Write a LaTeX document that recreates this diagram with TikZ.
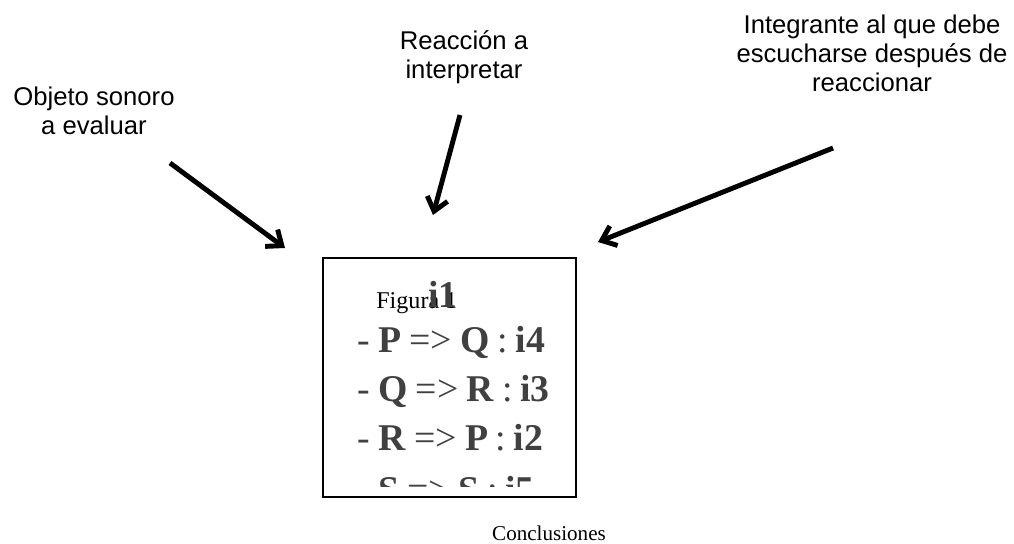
\documentclass[tikz,border=0pt]{standalone}
\usepackage{fontspec}
\setmainfont{Liberation Serif}
\newfontfamily\labelfont{Liberation Sans}
\usepackage{xcolor}
\usetikzlibrary{arrows.meta}
\definecolor{rulegray}{HTML}{404040}
\newcommand\rulerow[3]{-\hspace{0.22em}\textbf{#1}\hspace{0.22em}=>\hspace{0.22em}\textbf{#2}\hspace{0.2em}:\hspace{0.2em}\textbf{#3}}

\begin{document}
\begin{tikzpicture}[
  x=0.02cm, y=-0.02cm,
  lbl/.style={align=center, inner sep=0pt,
              font=\labelfont\fontsize{14.6}{16.6}\selectfont},
  row/.style={anchor=base west, inner sep=0pt, text=rulegray,
              font=\fontsize{21.5}{24}\selectfont},
  ar/.style={-{Straight Barb[length=2.6mm,width=4.2mm]}, line width=2.8pt}
]
\useasboundingbox (0,0) rectangle (1014,544);
\node[lbl] (obj)  at (94,111)  {Objeto sonoro\\a evaluar};
\node[lbl] (reac) at (464,57)  {Reacción a\\interpretar};
\node[lbl] (integ) at (872,53) {Integrante al que debe\\escucharse después de\\reaccionar};
% content of the box, cut off at the bottom
\begin{scope}
\clip (323,258) rectangle (576,486);
\node[anchor=base west, inner sep=0pt, font=\fontsize{13.7}{16}\selectfont]
  (fig) at (376,308) {Figura 1};
\node[row] (ione) at (428,307) {\textbf{i1}};
\node[row] (r1) at (357,352) {\rulerow{P}{Q}{i4}};
\node[row] (r2) at (357,401) {\rulerow{Q}{R}{i3}};
\node[row] (r3) at (357,450) {\rulerow{R}{P}{i2}};
\node[row] (r4) at (357,502) {\rulerow{S}{S}{i5}};
\end{scope}
\node[draw, line width=1.2pt, minimum width=253*0.02cm, minimum height=239*0.02cm,
      inner sep=0pt] (box) at (449.5,377.5) {};
\node[inner sep=0pt, font=\fontsize{12}{14}\selectfont] (concl) at (549,533) {Conclusiones};
\coordinate (obj-s)   at (170,163);
\coordinate (obj-e)   at (285,248);
\coordinate (reac-s)  at (460,115);
\coordinate (reac-e)  at (433,215);
\coordinate (integ-s) at (833,148);
\coordinate (integ-e) at (598,242);
\draw[ar] (obj-s) -- (obj-e);
\draw[ar] (reac-s) -- (reac-e);
\draw[ar] (integ-s) -- (integ-e);
\end{tikzpicture}
\end{document}
